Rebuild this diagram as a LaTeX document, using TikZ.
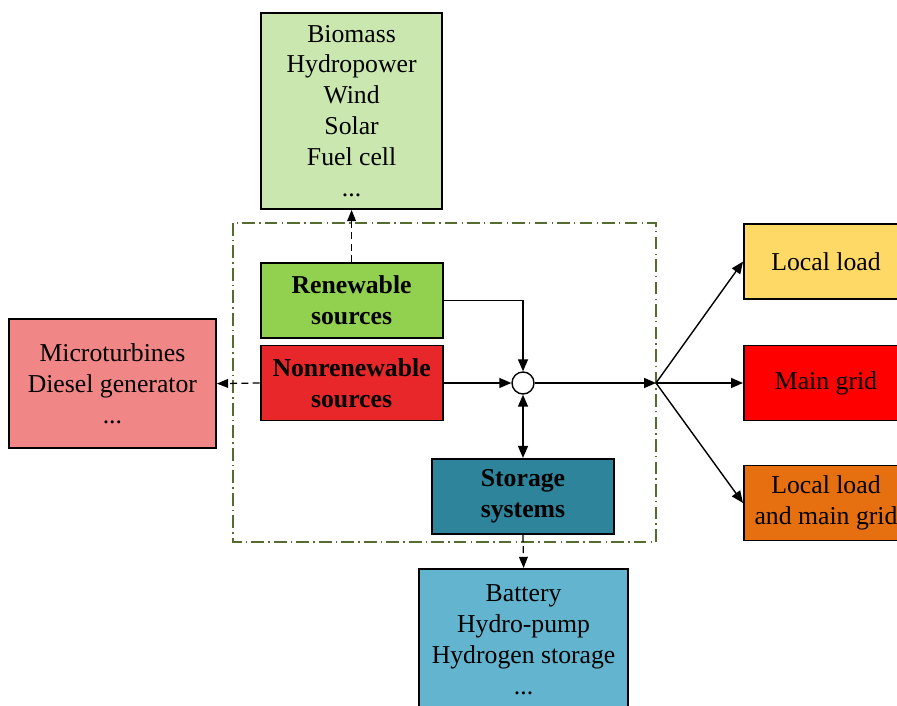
\documentclass[tikz,border=0pt]{standalone}
\usepackage{fontspec}
\setmainfont{Liberation Serif}
\usetikzlibrary{arrows.meta}

\definecolor{sourcelight}{RGB}{201,231,175}
\definecolor{renewgreen}{RGB}{146,208,80}
\definecolor{nonrenewred}{RGB}{232,39,42}
\definecolor{storageteal}{RGB}{46,132,155}
\definecolor{storagelight}{RGB}{99,181,207}
\definecolor{fossilpink}{RGB}{240,134,134}
\definecolor{loadyellow}{RGB}{255,217,102}
\definecolor{gridred}{RGB}{255,0,0}
\definecolor{bothorange}{RGB}{230,112,16}
\definecolor{frameolive}{RGB}{85,107,47}

\tikzset{
    block/.style={draw=black, line width=1.4pt, align=center, inner sep=0cm,
        font=\fontsize{18.3}{22}\selectfont},
    mainblock/.style={block, minimum width=4.55cm, minimum height=1.875cm, font=\fontsize{18.3}{22}\selectfont\bfseries},
    loadblock/.style={block, minimum width=4.1cm, minimum height=1.875cm},
    flow/.style={draw=black, line width=1pt, -{Triangle[length=0.3cm, width=0.25cm]}},
    typeflow/.style={draw=black, line width=0.9pt, dash pattern=on 5pt off 3pt, -{Triangle[length=0.28cm, width=0.22cm]}}
}

\begin{document}
\begin{tikzpicture}
\useasboundingbox (0,0) rectangle (22.425,-17.65);
\clip (0,0) rectangle (22.425,-17.65);
% microgrid frame
\draw[frameolive, line width=1pt, dash pattern=on 9pt off 3pt on 1pt off 3pt] (5.825,-5.575) rectangle (16.4,-13.55);
% sources and storage
\begin{scope}
    \node[mainblock, fill=renewgreen] (renew) at (8.79,-7.51) {Renewable\\sources};
    \node[mainblock, fill=nonrenewred] (nonrenew) at (8.79,-9.575) {Nonrenewable\\sources};
    \node[mainblock, fill=storageteal] (storage) at (13.075,-12.41) {Storage\\systems};
    \node[circle, draw=black, line width=1pt, fill=white, minimum size=0.55cm, inner sep=0cm] (bus) at (13.075,-9.575) {};
    \coordinate (fan) at (16.4,-9.575);
\end{scope}
% examples of each kind
\begin{scope}
    \node[block, fill=sourcelight, minimum width=4.525cm, minimum height=4.9cm] (renewlist) at (8.79,-2.775) {Biomass\\Hydropower\\Wind\\Solar\\Fuel cell\\...};
    \node[block, fill=fossilpink, minimum width=5.175cm, minimum height=3.225cm] (fossillist) at (2.81,-9.59) {Microturbines\\Diesel generator\\...};
    \node[block, fill=storagelight, minimum width=5.225cm, minimum height=3.55cm] (storagelist) at (13.09,-16.0) {Battery\\Hydro-pump\\Hydrogen storage\\...};
\end{scope}
% loads
\begin{scope}
    \node[loadblock, fill=loadyellow, anchor=west] (local) at (18.575,-6.54) {Local load};
    \node[loadblock, fill=gridred, anchor=west] (grid) at (18.575,-9.575) {Main grid};
    \node[loadblock, fill=bothorange, anchor=west] (both) at (18.575,-12.575) {Local load\\and main grid};
\end{scope}
% power flows
\draw[flow] (renew.east) -| (bus.north);
\draw[flow] (nonrenew.east) -- (bus.west);
\draw[flow, {Triangle[length=0.3cm, width=0.25cm]}-{Triangle[length=0.3cm, width=0.25cm]}] (storage.north) -- (bus.south);
\draw[flow] (bus.east) -- (fan);
\draw[flow] (fan) -- (local.west);
\draw[flow] (fan) -- (grid.west);
\draw[flow] (fan) -- (both.west);
\draw[typeflow] (renew.north) -- (renewlist.south);
\draw[typeflow] (nonrenew.west) -- (fossillist.east);
\draw[typeflow] (storage.south) -- (storagelist.north);
\end{tikzpicture}
\end{document}
